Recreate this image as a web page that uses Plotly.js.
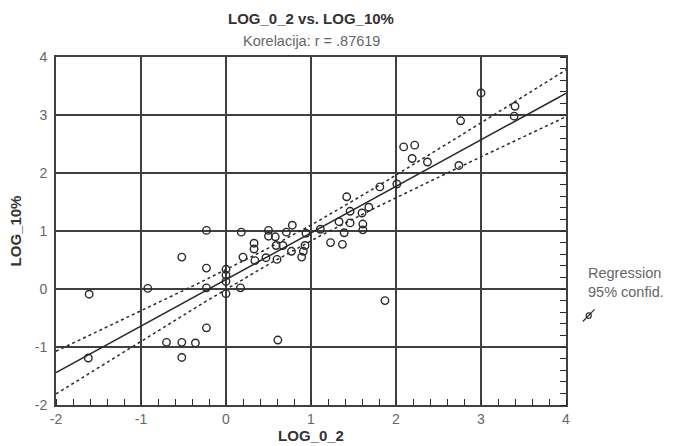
<!DOCTYPE html>
<html>
<head>
<meta charset="utf-8">
<script src="https://cdn.plot.ly/plotly-3.0.1.min.js"></script>
<style>html,body{margin:0;padding:0;background:#fff;}#chart{width:676px;height:446px;}</style>
</head>
<body>
<div id="chart"></div>
<script>
// LOG_0_2 values (x) and LOG_10% values (y)
const log02 = [3.00, 3.40, 3.39, 2.76, 2.74, 2.09, 2.22, 2.19, 2.37, 2.01,
  1.81, 1.42, 1.68, 1.46, 1.60, 1.33, 1.46, 1.61, 1.61, 1.39,
  1.11, 0.94, 1.23, 1.37, 1.87, 0.78, 0.71, 0.50, 0.50, 0.58,
  0.18, -0.23, 0.33, 0.33, 0.59, 0.67, 0.93, 0.77, 0.91, 0.89,
  0.20, 0.34, 0.47, 0.60, -0.52, -0.23, 0.00, 0.00, 0.00, 0.00,
  -0.23, 0.17, -0.92, -1.61, -0.23, -0.70, -0.52, -0.36, -0.52, -1.62,
  0.61];
const log10pct = [3.38, 3.15, 2.98, 2.90, 2.13, 2.45, 2.48, 2.25, 2.19, 1.81,
  1.76, 1.59, 1.41, 1.34, 1.31, 1.16, 1.14, 1.12, 1.02, 0.97,
  1.03, 0.96, 0.80, 0.77, -0.20, 1.10, 0.98, 1.01, 0.91, 0.90,
  0.98, 1.01, 0.79, 0.69, 0.75, 0.75, 0.75, 0.65, 0.65, 0.55,
  0.55, 0.49, 0.54, 0.51, 0.55, 0.36, 0.34, 0.24, 0.13, -0.08,
  0.02, 0.02, 0.01, -0.09, -0.67, -0.92, -0.92, -0.93, -1.18, -1.19,
  -0.88];
const xTicks = [-2, -1, 0, 1, 2, 3, 4];
const yTicks = [-2, -1, 0, 1, 2, 3, 4];
const titleText = 'LOG_0_2 vs. LOG_10%';
const subtitleText = 'Korelacija: r = .87619';
const xTitle = 'LOG_0_2';
const yTitle = 'LOG_10%';
const legendLabels = ['Regression', '95% confid.'];

// least-squares regression and 95% confidence band for the mean
const n = log02.length;
const mx = log02.reduce((a, b) => a + b, 0) / n;
const my = log10pct.reduce((a, b) => a + b, 0) / n;
let sxx = 0, sxy = 0;
for (let i = 0; i < n; i++) { sxx += (log02[i] - mx) ** 2; sxy += (log02[i] - mx) * (log10pct[i] - my); }
const slope = sxy / sxx, icpt = my - slope * mx;
let sse = 0;
for (let i = 0; i < n; i++) { const r = log10pct[i] - (icpt + slope * log02[i]); sse += r * r; }
const s = Math.sqrt(sse / (n - 2));
const tval = 2.0;
const gx = [], gy = [], gu = [], gl = [];
for (let k = 0; k <= 120; k++) {
  const xv = xTicks[0] + k * (xTicks[xTicks.length - 1] - xTicks[0]) / 120;
  const yh = icpt + slope * xv;
  const h = tval * s * Math.sqrt(1 / n + (xv - mx) ** 2 / sxx);
  gx.push(xv); gy.push(yh); gu.push(yh + h); gl.push(yh - h);
}

const dark = '#2a2a2a';
const traces = [
  {x: gx, y: gu, mode: 'lines', line: {color: dark, width: 1.5, dash: 'dot'}, hoverinfo: 'skip'},
  {x: gx, y: gl, mode: 'lines', line: {color: dark, width: 1.5, dash: 'dot'}, hoverinfo: 'skip'},
  {x: gx, y: gy, mode: 'lines', line: {color: dark, width: 1.5}, hoverinfo: 'skip'},
  {x: log02, y: log10pct, mode: 'markers', marker: {symbol: 'circle-open', size: 7.5, color: dark, line: {width: 1.4, color: dark}}},
  {x: [], y: [], yaxis: 'y2', mode: 'markers'}
];

const font = 'Liberation Sans, Arial, sans-serif';
const layout = {
  width: 676, height: 446,
  margin: {l: 56, r: 110, t: 57, b: 41},
  showlegend: false,
  paper_bgcolor: '#fff', plot_bgcolor: '#fff',
  font: {family: font, color: '#555'},
  xaxis: {
    range: [-2, 4], tickvals: xTicks, ticktext: xTicks.map(String),
    showgrid: true, gridcolor: '#404040', gridwidth: 2, zeroline: false,
    showline: true, linecolor: '#404040', linewidth: 2, mirror: true,
    ticks: '', ticklen: 0,
    minor: {dtick: 0.2, tick0: 0, ticks: 'inside', ticklen: 6, tickcolor: dark, tickwidth: 1, showgrid: false},
    tickfont: {size: 14, color: '#666'},
    title: {text: '<b>' + xTitle + '</b>', font: {size: 15, color: '#333', family: font}, standoff: 5}
  },
  yaxis: {
    range: [-2, 4], tickvals: yTicks, ticktext: yTicks.map(String),
    showgrid: true, gridcolor: '#404040', gridwidth: 2, zeroline: false,
    showline: true, linecolor: '#404040', linewidth: 2, mirror: true,
    ticks: '', ticklen: 0, ticklabelstandoff: 4,
    tickfont: {size: 14, color: '#666'},
    title: {text: '<b>' + yTitle + '</b>', font: {size: 15, color: '#333', family: font}, standoff: 9}
  },
  yaxis2: {
    range: [-2, 4], overlaying: 'y', side: 'right', showgrid: false, zeroline: false,
    showticklabels: false, ticks: '', showline: false,
    minor: {dtick: 0.2, tick0: 0, ticks: 'inside', ticklen: 6, tickcolor: dark, tickwidth: 1, showgrid: false},
    tickvals: yTicks
  },
  annotations: [
    {text: '<b>' + titleText + '</b>', xref: 'paper', yref: 'paper', x: 0.5, y: 1.11, showarrow: false,
     font: {size: 15, color: '#333', family: font}, xanchor: 'center', yanchor: 'middle'},
    {text: subtitleText, xref: 'paper', yref: 'paper', x: 0.5, y: 1.047, showarrow: false,
     font: {size: 14.5, color: '#666', family: font}, xanchor: 'center', yanchor: 'middle'},
    {text: legendLabels[0], xref: 'paper', yref: 'paper', x: 1.04, y: 0.38, showarrow: false,
     font: {size: 14.5, color: '#666', family: font}, xanchor: 'left', yanchor: 'middle'},
    {text: legendLabels[1], xref: 'paper', yref: 'paper', x: 1.04, y: 0.326, showarrow: false,
     font: {size: 14.5, color: '#666', family: font}, xanchor: 'left', yanchor: 'middle'}
  ],
  shapes: [
    {type: 'circle', xref: 'paper', yref: 'paper', x0: 1.0395, x1: 1.0495, y0: 0.249, y1: 0.265,
     line: {color: dark, width: 1.2}},
    {type: 'line', xref: 'paper', yref: 'paper', x0: 1.033, x1: 1.056, y0: 0.240, y1: 0.275,
     line: {color: dark, width: 1.2}}
  ]
};

Plotly.newPlot('chart', traces, layout, {displayModeBar: false, staticPlot: true});
</script>
</body>
</html>
